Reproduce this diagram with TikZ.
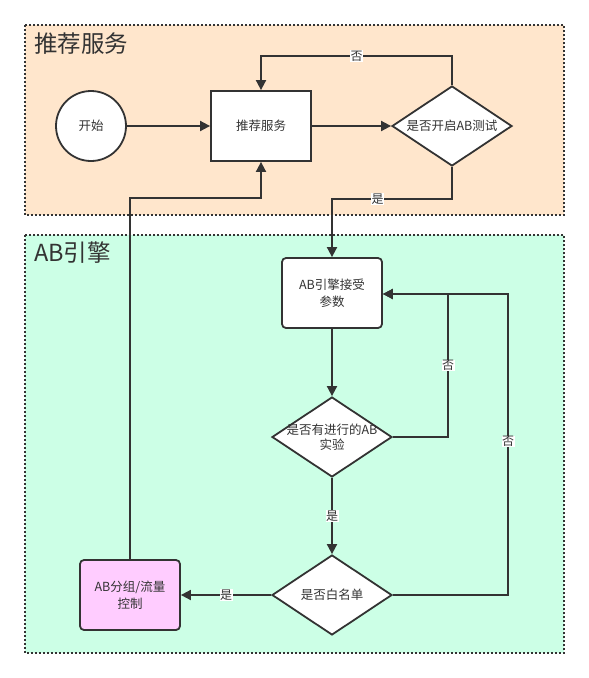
\documentclass[tikz,border=0pt]{standalone}
\usepackage{fontspec}
\setmainfont{Noto Sans CJK SC}
\usetikzlibrary{shapes.geometric,arrows.meta}
\definecolor{ln}{HTML}{333333}
\definecolor{peach}{HTML}{FFE6CC}
\definecolor{mint}{HTML}{CCFFE6}
\definecolor{pink}{HTML}{FFCCFF}
\tikzset{
  grp/.style={draw=ln, line width=1.2pt, dash pattern=on 2pt off 2pt},
  proc/.style={draw=ln, line width=1.8pt, fill=white, minimum width=100pt, minimum height=70pt, align=center, font=\fontsize{12.5}{17}\selectfont, text=ln, inner sep=2pt},
  rproc/.style={proc, rounded corners=4pt},
  dec/.style={draw=ln, line width=1.8pt, fill=white, diamond, minimum width=120pt, minimum height=80pt, aspect=1.5, inner sep=0pt},
  dtxt/.style={align=center, text=ln, font=\fontsize{12.5}{15}\selectfont, inner sep=0pt},
  conn/.style={draw=ln, line width=1.8pt, -{Triangle[length=10pt,width=10pt]}},
  lbl/.style={fill=white, inner sep=0.5pt, font=\fontsize{12}{14}\selectfont, text=ln},
  ttl/.style={anchor=west, font=\fontsize{23.5}{27}\selectfont, text=ln, inner sep=0pt}
}
\begin{document}
\begin{tikzpicture}[x=1pt,y=-1pt]
\useasboundingbox (0,0) rectangle (589,678);
% groups
\draw[grp, fill=peach] (25,25) rectangle (564,215);
\draw[grp, fill=mint] (25,235) rectangle (564,653);
\node[ttl] (t1) at (34,44) {推荐服务};
\node[ttl] (t2) at (34,253) {AB引擎};
% nodes
\node[circle, draw=ln, line width=1.8pt, fill=white, minimum size=70pt, text=ln, font=\fontsize{12.5}{14}\selectfont] (start) at (91,126) {开始};
\node[proc] (rec) at (261,126) {推荐服务};
\node[dec] (d1) at (452,126) {};
\node[dtxt] (d1t) at (d1) {是否开启AB测试};
\node[rproc] (ab) at (332,293) {AB引擎接受\\参数};
\node[dec] (d2) at (332,437) {};
\node[dtxt] (d2t) at (d2) {是否有进行的AB\\实验};
\node[dec] (d3) at (332,595) {};
\node[dtxt] (d3t) at (d3) {是否白名单};
\node[rproc, fill=pink] (grp) at (130,595) {AB分组/流量\\控制};
% connectors
\draw[conn] (start) -- (rec);
\draw[conn] (rec) -- (d1);
\draw[conn] (d1.north) -- (452,56) -- node[lbl]{否} (261,56) -- (rec.north);
\draw[conn] (d1.south) -- (452,199) -- node[lbl, pos=0.62]{是} (332,199) -- (ab.north);
\draw[conn] (ab) -- (d2);
\draw[conn] (d2.east) -- (448,437) -- node[lbl]{否} (448,294) -- (ab.east |- 0,294);
\draw[conn] (d2) -- node[lbl]{是} (d3);
\draw[conn] (d3.east) -- (508,595) -- node[lbl, pos=0.51]{否} (508,294) -- (ab.east |- 0,294);
\draw[conn] (d3) -- node[lbl]{是} (grp);
\draw[conn] (grp.north) -- (130,198) -- (261,198) -- (rec.south);
\end{tikzpicture}
\end{document}
